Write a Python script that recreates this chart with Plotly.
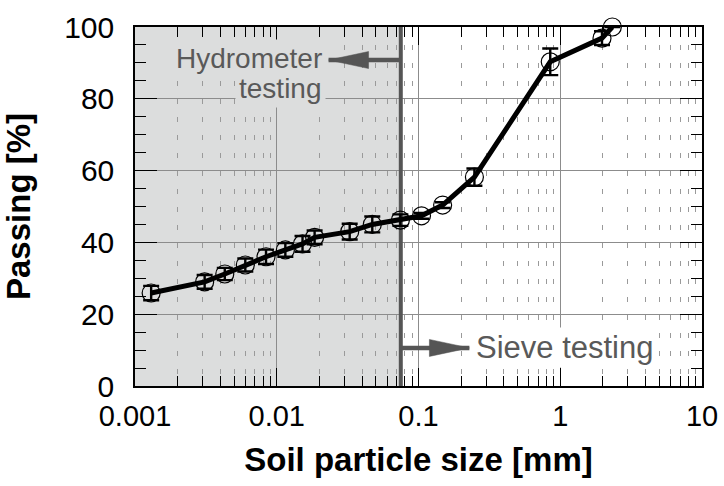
import numpy as np
import plotly.graph_objects as go

# Data
size_mm = [0.0013, 0.0031, 0.0043, 0.0060, 0.0084, 0.0115, 0.0152, 0.0185,
           0.0327, 0.0472, 0.0745, 0.105, 0.148, 0.248, 0.85, 1.97, 2.33]
passing = [25.9, 29.0, 31.2, 33.7, 36.0, 37.9, 39.6, 41.4,
           43.0, 45.0, 46.2, 47.4, 50.4, 58.2, 90.3, 96.9, 100.0]
err = [2.0, 1.9, 1.7, 1.8, 2.0, 1.9, 2.2, 1.9,
       2.2, 2.2, 1.6, 0.8, 0.8, 2.4, 3.7, 1.9, 0.0]

boundary_mm = 0.075
x_range = [0.001, 10]
y_range = [0, 100]
x_ticks = [0.001, 0.01, 0.1, 1, 10]
x_ticklabels = ["0.001", "0.01", "0.1", "1", "10"]
y_ticks = [0, 20, 40, 60, 80, 100]

hydro_arrow_y, hydro_tip = 90.8, 0.0232
sieve_arrow_y, sieve_tip = 10.6, 0.2286

FONT = "Liberation Sans, Arial, sans-serif"
GRAYTXT = "#595959"
ARROW = "#555555"

fig = go.Figure()

fig.add_trace(go.Scatter(
    x=size_mm, y=passing, mode="lines+markers",
    line=dict(color="black", width=5),
    marker=dict(symbol="circle-open", size=18, color="black", line=dict(width=1.2)),
    error_y=dict(type="data", array=err, visible=True, color="black", thickness=2.4, width=8),
    showlegend=False, cliponaxis=False,
))

# shaded hydrometer region (below gridlines)
fig.add_shape(type="rect", xref="x", yref="y", x0=x_range[0], x1=boundary_mm,
              y0=y_range[0], y1=y_range[1], fillcolor="#dcdddd", line=dict(width=0),
              layer="below")
# boundary line
fig.add_shape(type="line", xref="x", yref="y", x0=boundary_mm, x1=boundary_mm,
              y0=y_range[0], y1=y_range[1] + 0.7, line=dict(color="#555555", width=4),
              layer="between")


def arrow(tip_x, y, direction):
    # direction -1 = pointing left, +1 = pointing right
    head_len, head_half = 40, 8.5
    fig.add_shape(type="line", xref="x", yref="y", x0=boundary_mm, x1=tip_x, y0=y, y1=y,
                  line=dict(color=ARROW, width=4.5), layer="above")
    fig.add_shape(type="path", xref="x", yref="y", xsizemode="pixel", ysizemode="pixel",
                  xanchor=tip_x, yanchor=y,
                  path=f"M0,0 L{-direction*head_len},{head_half} L{-direction*head_len},{-head_half} Z",
                  fillcolor=ARROW, line=dict(color=ARROW, width=0.5), layer="above")


arrow(hydro_tip, hydro_arrow_y, -1)
arrow(sieve_tip, sieve_arrow_y, +1)

# Labels
fig.add_annotation(x=np.log10(0.0222), y=91.1, xref="x", yref="y", xanchor="right",
                   yanchor="middle", showarrow=False, text="Hydrometer",
                   bgcolor="#dcdddd", borderpad=3,
                   font=dict(family=FONT, size=28, color=GRAYTXT))
fig.add_annotation(x=np.log10(0.0222), y=82.9, xref="x", yref="y", xanchor="right",
                   yanchor="middle", showarrow=False, text="testing",
                   bgcolor="#dcdddd", borderpad=3,
                   font=dict(family=FONT, size=28, color=GRAYTXT))
fig.add_annotation(x=np.log10(0.242), y=sieve_arrow_y, xref="x", yref="y", xanchor="left",
                   yanchor="middle", showarrow=False, text="Sieve testing",
                   bgcolor="white", borderpad=2,
                   font=dict(family=FONT, size=31, color=GRAYTXT))

fig.update_xaxes(
    type="log", range=[np.log10(x_range[0]), np.log10(x_range[1])],
    tickvals=x_ticks, ticktext=x_ticklabels,
    ticks="inside", ticklen=18, tickwidth=1.2, tickcolor="black",
    showline=True, linecolor="black", linewidth=1.5, mirror="ticks",
    showgrid=True, gridcolor="#8c8c8c", gridwidth=1,
    minor=dict(ticks="inside", ticklen=10, tickwidth=1, tickcolor="black",
               showgrid=True, gridcolor="#9a9a9a", griddash="5px,13px", gridwidth=1,
               dtick="D1"),
    tickfont=dict(family=FONT, size=29, color="black"),
    ticklabelstandoff=3,
    title=dict(text="<b>Soil particle size [mm]</b>", standoff=17,
               font=dict(family=FONT, size=33, color="black")),
    zeroline=False,
)
fig.update_yaxes(
    range=y_range, tickvals=y_ticks,
    ticks="inside", ticklen=22, tickwidth=1.2, tickcolor="black",
    showline=True, linecolor="black", linewidth=1.5, mirror="ticks",
    showgrid=True, gridcolor="#8c8c8c", gridwidth=1,
    minor=dict(ticks="inside", ticklen=11, tickwidth=1, tickcolor="black",
               dtick=5, showgrid=False),
    tickfont=dict(family=FONT, size=30, color="black"),
    ticklabelstandoff=13,
    title=dict(text="<b>Passing [%]</b>", standoff=24,
               font=dict(family=FONT, size=33, color="black")),
    zeroline=False,
)

fig.update_layout(
    width=724, height=486,
    margin=dict(l=135, r=22, t=27, b=100, autoexpand=False),
    plot_bgcolor="white", paper_bgcolor="white",
)

fig.write_html("out.html")
